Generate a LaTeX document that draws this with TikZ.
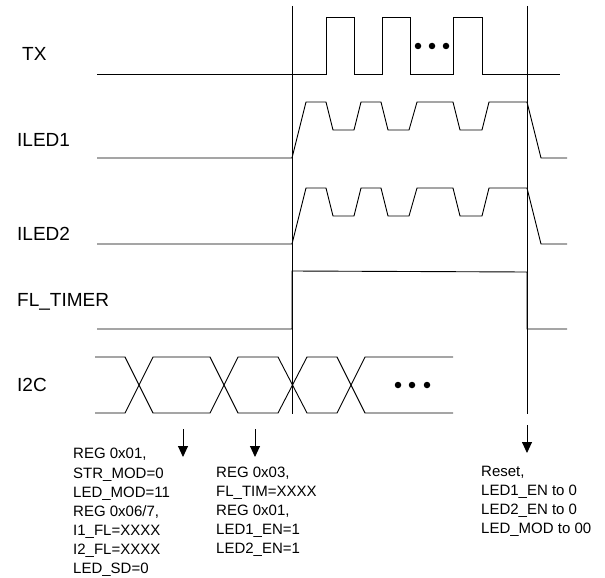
\documentclass[tikz,border=0pt]{standalone}
\usepackage{fontspec}
\setmainfont{Liberation Sans}
\usetikzlibrary{arrows.meta}

\tikzstyle{signal} = [line width=0.9pt, line join=miter]
\tikzstyle{sig} = [anchor=base west, inner sep=0pt, font=\fontsize{19}{22}\selectfont]
\tikzstyle{note} = [anchor=base west, inner sep=0pt, align=left, font=\fontsize{15}{19.1}\selectfont]
\tikzstyle{blob} = [circle, minimum width=6.5pt, fill, inner sep=0pt]
\tikzstyle{cmd} = [line width=0.9pt, -{Triangle[length=11pt,width=10pt]}]

\begin{document}
\begin{tikzpicture}[x=1pt, y=-1pt]
	\useasboundingbox (0,0) rectangle (605,578);

	% signal names
	\node[sig] (tx)    at (22,60.7)  {TX};
	\node[sig] (iled1) at (17,146)   {ILED1};
	\node[sig] (iled2) at (17,240.7) {ILED2};
	\node[sig] (fltim) at (17,306.7) {FL\_TIMER};
	\node[sig] (i2c)   at (17,391.7) {I2C};

	% start and stop markers
	\draw[signal] (292,6) -- (292,414);
	\draw[signal] (527,6) -- (527,414);

	% TX
	\draw[signal] (97,74) -- (326,74) -- (326,17) -- (354,17) -- (354,74)
		-- (382,74) -- (382,17) -- (410,17) -- (410,74)
		-- (453,74) -- (453,17) -- (482,17) -- (482,74) -- (560,74);
	\node[blob] (txdot1) at (418,46) {};
	\node[blob] (txdot2) at (432,46) {};
	\node[blob] (txdot3) at (446,46) {};

	% ILED1 and ILED2
	\foreach \b in {158,244} {
		\draw[signal] (97,\b) -- (292,\b) -- (306,{\b-56}) -- (326,{\b-56})
			-- (333,{\b-28}) -- (354,{\b-28}) -- (361,{\b-56}) -- (381,{\b-56})
			-- (388,{\b-28}) -- (409,{\b-28}) -- (417,{\b-56}) -- (453,{\b-56})
			-- (460,{\b-28}) -- (482,{\b-28}) -- (489,{\b-56}) -- (527,{\b-56})
			-- (541,\b) -- (567,\b);
	}

	% FL_TIMER
	\draw[signal] (97,329) -- (292,329) -- (292,271) -- (527,272)
		-- (527,329) -- (567,329);

	% I2C
	\draw[signal] (95,357) -- (125,357) -- (153,413) -- (210,413) -- (238,357)
		-- (278,357) -- (307,413) -- (337,413) -- (365,357) -- (453,357);
	\draw[signal] (95,413) -- (125,413) -- (153,357) -- (210,357) -- (238,413)
		-- (278,413) -- (307,357) -- (337,357) -- (365,413) -- (453,413);
	\node[blob] (i2cdot1) at (398,385) {};
	\node[blob] (i2cdot2) at (412,385) {};
	\node[blob] (i2cdot3) at (427,385) {};

	% commands
	\coordinate (wr1) at (183,429);
	\coordinate (wr1end) at (183,457);
	\coordinate (wr2) at (255,429);
	\coordinate (wr2end) at (255,457);
	\coordinate (rst) at (527,425);
	\coordinate (rstend) at (527,453);
	\draw[cmd] (wr1) -- (wr1end);
	\draw[cmd] (wr2) -- (wr2end);
	\draw[cmd] (rst) -- (rstend);

	% base anchor sits on the last line
	\node[note] (setup) at (73,573.5) {REG 0x01,\\STR\_MOD=0\\LED\_MOD=11\\REG 0x06/7,\\I1\_FL=XXXX\\I2\_FL=XXXX\\LED\_SD=0};
	\node[note] (start) at (216,553.9) {REG 0x03,\\FL\_TIM=XXXX\\REG 0x01,\\LED1\_EN=1\\LED2\_EN=1};
	\node[note] (reset) at (481,533.3) {Reset,\\LED1\_EN to 0\\LED2\_EN to 0\\LED\_MOD to 00};
\end{tikzpicture}
\end{document}
